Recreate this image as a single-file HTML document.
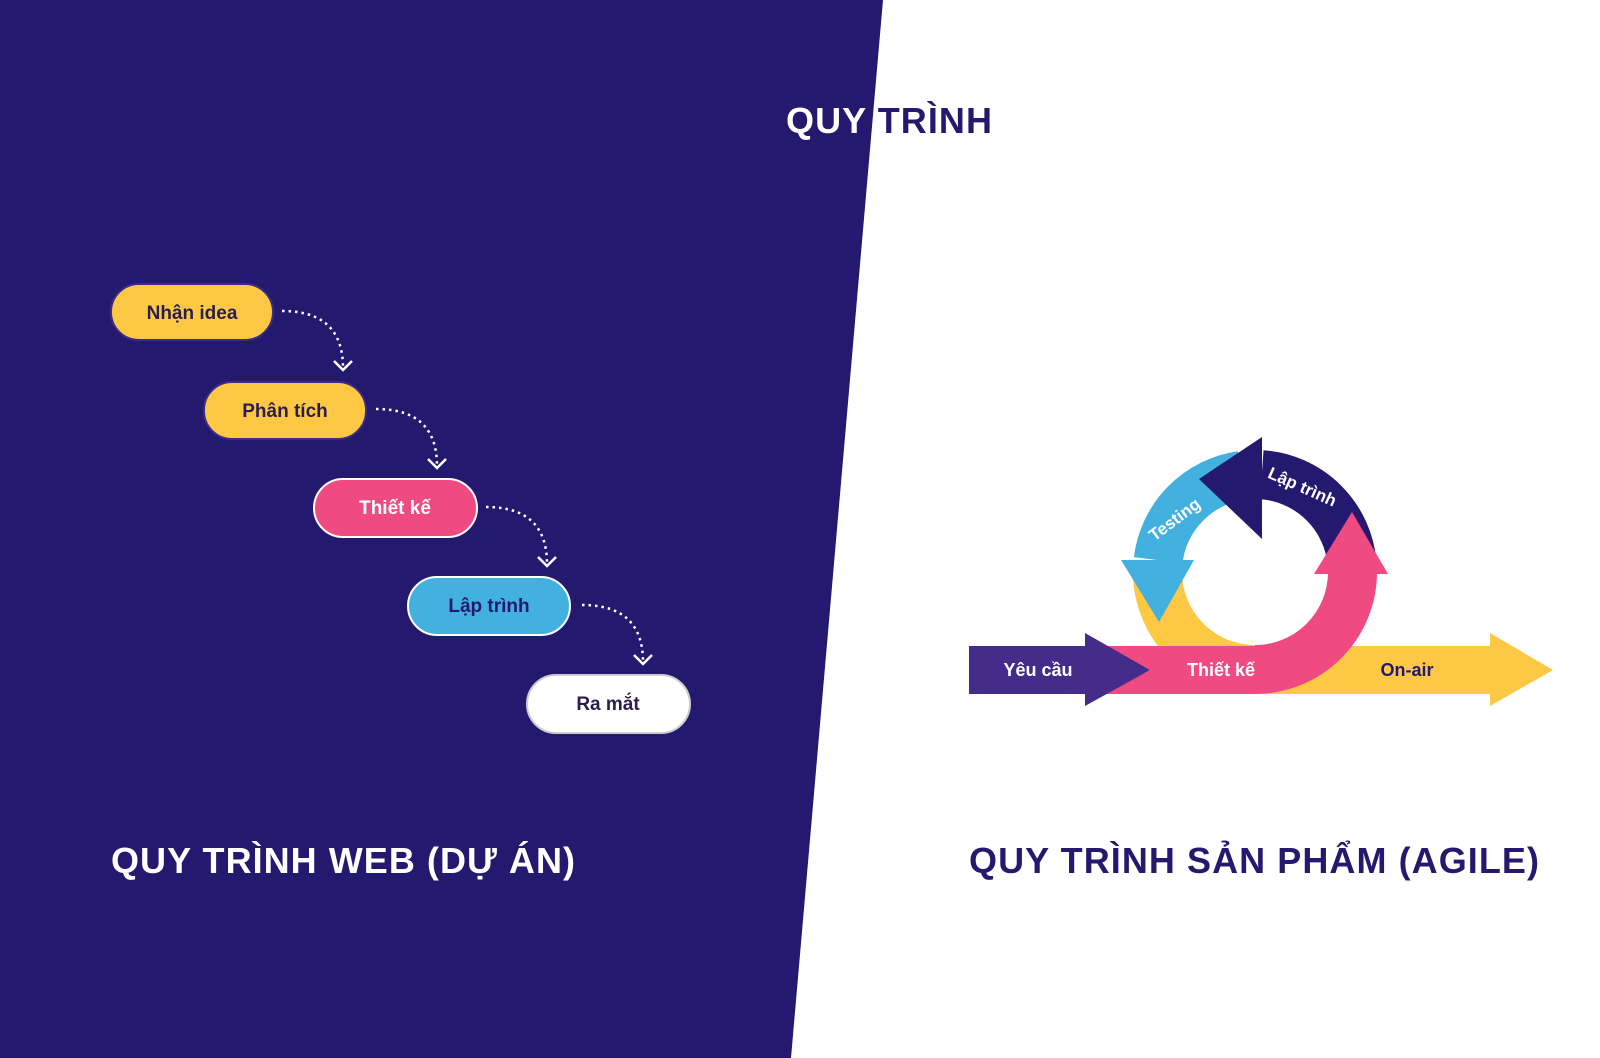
<!DOCTYPE html>
<html><head><meta charset="utf-8"><style>
html,body{margin:0;padding:0;background:#fff;}
svg{display:block;}
text{font-family:"Liberation Sans",sans-serif;font-weight:bold;}
</style></head><body>
<svg width="1600" height="1058" viewBox="0 0 1600 1058" xmlns="http://www.w3.org/2000/svg">
<defs>
<clipPath id="dark"><polygon points="0,0 883,0 791,1058 0,1058"/></clipPath>
</defs>
<rect width="1600" height="1058" fill="#fff"/>
<polygon points="0,0 883,0 791,1058 0,1058" fill="#24186f"/>

<text x="786" y="133" font-size="36" fill="#24186f" textLength="206" lengthAdjust="spacing">QUY TRÌNH</text>
<text x="786" y="133" font-size="36" fill="#fff" textLength="206" lengthAdjust="spacing" clip-path="url(#dark)">QUY TRÌNH</text>

<rect x="111" y="284" width="162" height="56" rx="28" fill="#fec844" stroke="#3b2d85" stroke-width="2"/>
<text x="192" y="319" font-size="19" fill="#2a1f4a" text-anchor="middle">Nhận idea</text>
<rect x="204" y="382" width="162" height="57" rx="28" fill="#fec844" stroke="#3b2d85" stroke-width="2"/>
<text x="285" y="417" font-size="19" fill="#2a1f4a" text-anchor="middle">Phân tích</text>
<rect x="314" y="479" width="163" height="58" rx="29" fill="#ef4b82" stroke="#fff" stroke-width="2"/>
<text x="395" y="514" font-size="19" fill="#fff" text-anchor="middle">Thiết kế</text>
<rect x="408" y="577" width="162" height="58" rx="29" fill="#42b1e0" stroke="#fff" stroke-width="2"/>
<text x="489" y="612" font-size="19" fill="#24186f" text-anchor="middle">Lập trình</text>
<rect x="527" y="675" width="163" height="58" rx="29" fill="#fff" stroke="#ccc" stroke-width="2"/>
<text x="608" y="710" font-size="19" fill="#2a1f4a" text-anchor="middle">Ra mắt</text>

<g fill="none" stroke="#fff" stroke-width="2.5">
<g stroke-dasharray="2.5,4">
<path d="M282,311 C325,311 343,332 343,368"/>
<path d="M376,409 C419,409 437,430 437,466"/>
<path d="M486,507 C529,507 547,528 547,564"/>
<path d="M582,605 C625,605 643,626 643,662"/>
</g>
<path d="M334,361 L343,370 L352,361"/>
<path d="M428,459 L437,468 L446,459"/>
<path d="M538,557 L547,566 L556,557"/>
<path d="M634,655 L643,664 L652,655"/>
</g>

<text x="111" y="873" font-size="36" fill="#fff" textLength="464" lengthAdjust="spacing">QUY TRÌNH WEB (DỰ ÁN)</text>
<text x="969" y="873" font-size="36" fill="#24186f" textLength="570" lengthAdjust="spacing">QUY TRÌNH SẢN PHẨM (AGILE)</text>

<polygon points="1255,646 1490,646 1490,633 1553,670 1490,706 1490,694 1255,694" fill="#fdc843"/>
<g transform="translate(1255,572)" fill="none" stroke-width="49">
<path d="M0,97.5 A97.5,97.5 0 0 1 -97.5,0" stroke="#fdc843"/>
<path d="M-13.6,-96.5 A97.5,97.5 0 0 0 -96.8,-11.9" stroke="#42b1e0"/>
<polygon points="-134,-12 -61,-12 -96,50" fill="#42b1e0" stroke="none"/>
<path d="M97.1,-8.5 A97.5,97.5 0 0 0 6.8,-97.3" stroke="#24186f"/>
<polygon points="7,-135 7,-33 -56,-93" fill="#24186f" stroke="none"/>
<path d="M0,97.5 A97.5,97.5 0 0 0 97.5,0 L97.5,-2" stroke="#ef4b82"/>
<polygon points="59,2 133,2 97,-60" fill="#ef4b82" stroke="none"/>
</g>
<polygon points="1105,646 1256,646 1256,694 1105,694 1150,670" fill="#ef4b82"/>
<polygon points="969,646 1085,646 1085,633 1150,670 1085,706 1085,694 969,694" fill="#452b8a"/>

<text x="1038" y="676" font-size="18" fill="#fff" text-anchor="middle">Yêu cầu</text>
<text x="1221" y="676" font-size="18" fill="#fff" text-anchor="middle">Thiết kế</text>
<text x="1407" y="676" font-size="18" fill="#24186f" text-anchor="middle">On-air</text>
<text transform="translate(1178,524) rotate(-37)" font-size="17" fill="#fff" text-anchor="middle">Testing</text>
<text transform="translate(1300,492) rotate(24)" font-size="17" fill="#fff" text-anchor="middle">Lập trình</text>
</svg>
</body></html>
